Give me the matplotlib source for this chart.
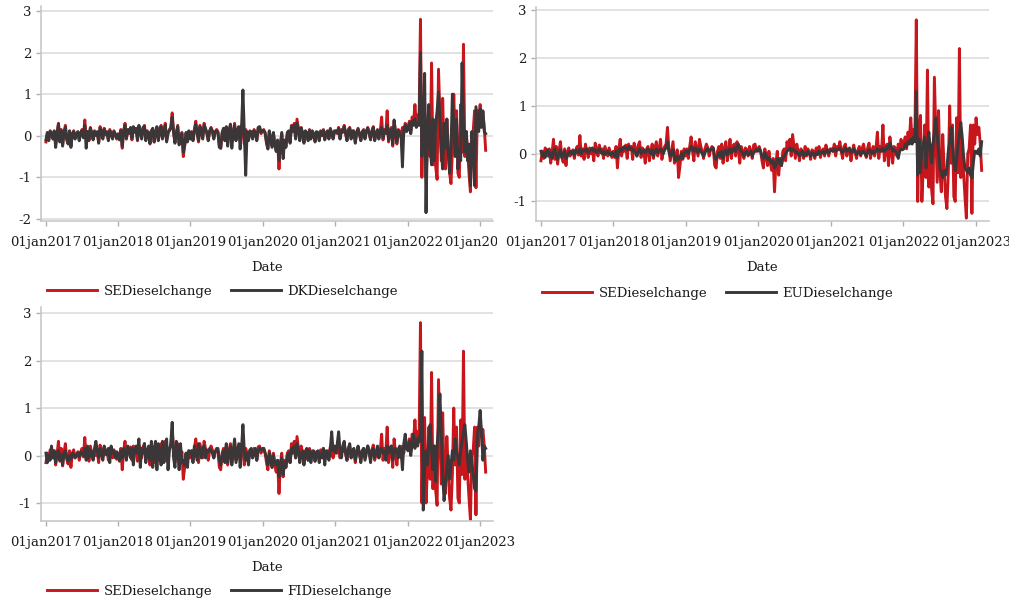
import matplotlib
matplotlib.use("Agg")
import matplotlib.pyplot as plt
import pandas as pd
from matplotlib.transforms import Bbox, TransformedBbox

# weekly diesel price changes (2017 .. early 2023)
se_diesel = [
    # 2017
    -0.15, 0.05, -0.10, 0.12, 0.08, -0.05, 0.10, -0.20, 0.02, 0.30,
    -0.12, 0.15, -0.22, 0.05, 0.25, -0.08, -0.18, 0.10, -0.25, 0.04,
    0.12, -0.05, 0.02, 0.08, -0.10, 0.05, 0.15, -0.03, 0.38, -0.05,
    0.10, -0.12, 0.20, 0.05, -0.08, 0.12, 0.00, 0.08, -0.15, 0.22,
    0.10, -0.05, 0.18, 0.02, 0.10, -0.10, 0.15, 0.05, -0.05, 0.12,
    0.02, -0.08,
    # 2018
    0.05, -0.08, 0.15, -0.30, 0.10, 0.30, -0.05, 0.12, 0.05, 0.18,
    -0.10, 0.20, 0.08, 0.15, -0.12, 0.22, 0.10, -0.05, 0.18, 0.25,
    -0.08, 0.12, 0.05, -0.20, 0.10, 0.15, -0.15, 0.05, 0.20, -0.10,
    0.12, 0.25, -0.05, 0.08, 0.30, -0.12, 0.05, 0.15, 0.20, 0.55,
    0.10, -0.15, 0.05, 0.25, -0.20, -0.10, 0.08, -0.50, -0.25, 0.05,
    -0.12, 0.10, -0.05,
    # 2019
    0.10, -0.10, 0.15, 0.35, 0.05, -0.15, 0.25, 0.10, -0.05, 0.30,
    0.15, 0.05, -0.10, 0.10, 0.20, 0.12, -0.05, 0.08, 0.15, 0.10,
    -0.25, -0.30, 0.05, 0.15, -0.10, 0.20, -0.20, 0.10, 0.25, -0.15,
    0.05, 0.30, -0.10, 0.15, 0.20, -0.05, 0.25, 0.10, -0.20, 0.15,
    0.05, -0.10, 0.12, 0.08, -0.05, 0.15, 0.05, -0.10, 0.18, 0.20,
    0.05, 0.10,
    # 2020
    0.15, 0.05, -0.15, -0.30, 0.10, -0.05, -0.25, 0.05, -0.20, -0.35,
    -0.10, -0.80, -0.20, 0.05, -0.45, -0.10, -0.25, 0.05, 0.10, -0.15,
    0.25, 0.10, 0.30, -0.05, 0.40, 0.15, -0.10, 0.20, 0.05, -0.15,
    0.10, 0.05, -0.10, 0.15, -0.05, 0.10, 0.02, -0.12, 0.08, 0.05,
    -0.10, 0.12, 0.00, 0.15, -0.08, 0.05, 0.10, -0.05, 0.18, 0.05,
    -0.05, 0.10,
    # 2021
    0.10, 0.05, 0.20, -0.05, 0.15, 0.08, 0.25, 0.05, -0.10, 0.15,
    0.20, -0.05, 0.10, 0.12, -0.15, 0.05, 0.18, 0.02, -0.10, 0.08,
    0.15, -0.05, 0.10, 0.20, 0.05, -0.08, 0.12, 0.22, -0.10, 0.05,
    0.15, -0.05, 0.10, 0.45, -0.10, 0.15, 0.05, 0.60, -0.15, 0.10,
    0.20, -0.25, 0.35, 0.05, -0.20, 0.15, 0.10, -0.05, 0.20, 0.05,
    0.30, 0.15,
    # 2022
    0.20, 0.35, 0.10, 0.45, 0.30, 0.75, 0.25, 0.50, 0.40, 2.80,
    -1.00, 0.50, 0.80, -1.00, -0.30, 0.60, -0.50, 1.75, -0.70, 0.20,
    -0.75, -1.05, 1.60, 0.50, -0.60, 0.90, -0.40, -0.80, 0.40, -0.30,
    -0.90, -1.15, -0.40, 1.00, -0.20, 0.60, -0.90, -1.00, 0.75, -0.40,
    2.20, -0.50, 0.10, -0.40, -0.90, -1.35, 0.00, 0.10, 0.60, -1.25,
    0.60, 0.20,
    # 2023
    0.75, 0.40, 0.55, 0.20, -0.35,
]

dk_diesel = [
    # 2017
    -0.10, 0.08, -0.12, 0.10, 0.05, -0.08, 0.12, -0.28, 0.05, 0.28,
    -0.15, 0.12, -0.25, 0.08, 0.20, -0.10, -0.20, 0.12, -0.28, 0.05,
    0.10, -0.08, 0.05, 0.10, -0.12, 0.08, 0.12, -0.05, 0.25, -0.30,
    0.10, -0.10, 0.18, 0.08, -0.10, 0.10, 0.02, 0.10, -0.18, 0.18,
    0.12, -0.08, 0.15, 0.05, 0.08, -0.12, 0.12, 0.08, -0.08, 0.10,
    0.05, -0.05,
    # 2018
    0.02, -0.10, 0.12, -0.25, 0.12, 0.25, -0.08, 0.15, 0.08, 0.20,
    -0.05, 0.22, 0.10, 0.18, -0.10, 0.25, 0.12, -0.08, 0.20, 0.22,
    -0.12, 0.10, 0.08, -0.18, 0.12, 0.18, -0.15, 0.08, 0.22, -0.12,
    0.10, 0.22, -0.08, 0.10, 0.25, -0.15, 0.08, 0.12, 0.18, 0.45,
    0.08, -0.18, 0.08, 0.22, -0.22, -0.12, 0.05, -0.40, -0.22, 0.08,
    -0.15, 0.12, -0.08,
    # 2019
    0.08, -0.12, 0.12, 0.28, 0.08, -0.12, 0.22, 0.12, -0.08, 0.25,
    0.18, 0.08, -0.12, 0.12, 0.18, 0.10, -0.08, 0.10, 0.12, 0.08,
    -0.28, -0.30, 0.08, 0.18, -0.12, 0.22, -0.25, 0.12, 0.28, -0.30,
    0.08, 0.25, -0.12, 0.12, 0.22, -0.32, 0.20, 1.10, 0.05, -0.95,
    0.10, -0.12, 0.10, 0.10, -0.08, 0.12, 0.08, -0.12, 0.20, 0.22,
    0.08, 0.12,
    # 2020
    0.12, 0.08, -0.18, -0.32, 0.12, -0.08, -0.28, 0.08, -0.22, -0.38,
    -0.12, -0.60, -0.25, 0.08, -0.55, -0.12, -0.28, 0.08, 0.12, -0.18,
    0.22, 0.12, 0.25, -0.08, 0.30, 0.18, -0.12, 0.18, 0.08, -0.18,
    0.12, 0.08, -0.12, 0.12, -0.08, 0.12, 0.05, -0.15, 0.10, 0.08,
    -0.12, 0.10, 0.02, 0.12, -0.10, 0.08, 0.12, -0.08, 0.15, 0.08,
    -0.08, 0.12,
    # 2021
    0.12, 0.08, 0.18, -0.08, 0.12, 0.10, 0.22, 0.08, -0.12, 0.12,
    0.18, -0.08, 0.12, 0.10, -0.18, 0.08, 0.15, 0.05, -0.12, 0.10,
    0.12, -0.08, 0.12, 0.18, 0.08, -0.10, 0.10, 0.20, -0.12, 0.08,
    0.12, -0.08, 0.12, 0.20, -0.05, 0.12, 0.08, 0.25, -0.10, 0.12,
    0.15, -0.20, 0.38, 0.10, -0.15, 0.12, 0.05, 0.00, -0.75, 0.15,
    0.25, 0.10,
    # 2022
    0.15, 0.30, 0.05, 0.35, 0.25, 0.40, 0.20, 0.30, 0.25, 2.00,
    -0.50, 0.20, 1.50, -1.85, 0.10, 0.75, -0.30, -0.70, 0.40, -0.60,
    0.30, 0.60, 1.05, 0.40, -0.40, -0.80, 0.30, -0.30, 0.40, -0.40,
    -0.90, -0.30, 1.00, 0.20, -0.50, 0.40, -0.80, -0.30, -0.60, 1.75,
    0.30, -0.40, 0.10, -0.60, -0.20, -1.20, 0.10, -0.30, -1.20, 0.70,
    0.40, 0.10,
    # 2023
    0.65, 0.20, 0.60, 0.10, 0.05,
]

eu_diesel = [
    # 2017
    0.05, -0.05, 0.02, -0.08, 0.05, 0.08, -0.05, 0.02, -0.10, 0.05,
    0.10, -0.05, -0.12, 0.02, 0.08, -0.08, 0.00, 0.05, -0.10, -0.05,
    0.02, 0.05, 0.00, 0.05, -0.03, 0.08, 0.05, 0.02, 0.10, 0.00,
    0.05, 0.08, 0.05, 0.10, 0.02, 0.05, 0.08, 0.12, 0.05, 0.08,
    0.02, 0.05, 0.10, 0.05, 0.00, 0.05, -0.02, 0.02, 0.05, 0.00,
    -0.03, 0.02,
    # 2018
    0.00, -0.05, 0.05, -0.08, 0.05, 0.10, 0.05, 0.12, 0.15, 0.10,
    0.08, 0.15, 0.10, 0.12, 0.05, 0.08, 0.02, -0.05, 0.05, 0.10,
    0.00, 0.05, 0.08, 0.02, 0.05, 0.10, 0.05, 0.00, 0.08, -0.05,
    0.05, 0.10, 0.02, 0.05, 0.10, 0.05, 0.00, 0.08, 0.12, 0.25,
    0.05, -0.05, 0.02, 0.08, -0.10, -0.15, -0.05, -0.12, -0.08, 0.00,
    -0.10, 0.02, 0.05,
    # 2019
    0.05, 0.00, 0.08, 0.15, 0.10, 0.05, 0.12, 0.08, 0.02, 0.10,
    0.05, 0.00, -0.05, 0.02, 0.08, 0.10, 0.05, 0.08, 0.10, 0.12,
    -0.08, -0.12, -0.05, 0.02, -0.05, 0.05, -0.10, 0.02, 0.08, -0.02,
    0.05, 0.10, 0.02, 0.08, 0.12, 0.05, 0.15, 0.20, 0.10, 0.05,
    0.02, -0.05, 0.02, 0.05, -0.02, 0.00, 0.05, -0.05, 0.02, 0.05,
    0.08, 0.05,
    # 2020
    0.10, 0.05, -0.05, -0.10, 0.02, -0.05, -0.12, -0.08, -0.15, -0.20,
    -0.15, -0.30, -0.25, -0.10, -0.20, -0.12, -0.25, -0.10, -0.05, 0.00,
    0.05, 0.08, 0.12, 0.05, 0.10, 0.08, 0.02, 0.05, 0.00, -0.05,
    0.02, 0.05, -0.05, 0.02, -0.02, 0.05, 0.00, -0.05, 0.02, 0.00,
    -0.05, 0.02, -0.02, 0.05, 0.00, 0.02, 0.05, 0.00, 0.05, 0.08,
    0.02, 0.05,
    # 2021
    0.08, 0.05, 0.10, 0.05, 0.08, 0.10, 0.12, 0.05, 0.02, 0.08,
    0.12, 0.05, 0.08, 0.10, 0.02, 0.05, 0.10, 0.05, -0.02, 0.02,
    0.05, -0.02, 0.02, 0.05, 0.00, -0.05, 0.02, 0.08, 0.05, 0.00,
    0.05, 0.02, 0.05, 0.10, 0.05, 0.08, 0.05, 0.12, 0.05, 0.08,
    0.15, 0.10, 0.22, 0.15, 0.05, 0.08, 0.05, 0.02, -0.10, 0.05,
    0.10, 0.08,
    # 2022
    0.10, 0.20, 0.15, 0.25, 0.20, 0.30, 0.20, 0.35, 0.25, 1.30,
    -0.45, 0.30, -0.40, 0.05, 0.20, 0.35, -0.30, 0.15, 0.45, 0.10,
    -0.20, 0.20, 0.45, 0.75, 0.40, 0.05, -0.30, -0.40, -0.50, -0.35,
    -0.45, -0.30, 0.05, 0.25, 0.55, 0.20, -0.20, -0.35, -0.15, 0.20,
    0.40, 0.65, 0.35, -0.05, -0.30, -0.35, -0.40, -0.30, -0.45, -0.50,
    -0.20, 0.05,
    # 2023
    0.05, 0.00, 0.10, -0.05, 0.25,
]

fi_diesel = [
    # 2017
    0.05, -0.15, 0.00, -0.10, 0.20, -0.05, 0.10, -0.15, 0.05, 0.10,
    -0.10, 0.02, -0.20, 0.05, 0.10, -0.05, -0.12, 0.00, -0.08, 0.05,
    0.02, -0.05, 0.00, 0.05, -0.03, 0.08, 0.05, 0.00, 0.15, -0.10,
    0.20, -0.05, 0.12, 0.08, -0.10, 0.15, 0.30, 0.10, -0.05, 0.15,
    0.05, -0.10, 0.20, 0.10, 0.02, 0.15, -0.15, 0.20, 0.05, 0.10,
    -0.05, 0.08,
    # 2018
    0.02, -0.12, 0.10, -0.05, 0.15, 0.05, -0.10, 0.20, 0.10, -0.05,
    0.15, -0.20, 0.10, 0.20, 0.05, 0.35, -0.25, 0.15, 0.05, 0.25,
    -0.15, 0.10, 0.20, -0.10, 0.30, -0.25, 0.15, 0.30, -0.30, 0.25,
    0.05, -0.20, 0.30, -0.15, 0.20, 0.35, -0.30, 0.10, 0.25, 0.70,
    -0.05, -0.25, 0.30, 0.15, -0.30, 0.25, -0.15, -0.10, -0.20, 0.05,
    -0.25, 0.10, 0.05,
    # 2019
    0.10, -0.15, 0.20, 0.05, -0.10, 0.25, 0.10, -0.05, 0.15, 0.20,
    -0.05, 0.12, 0.08, 0.15, 0.10, 0.05, -0.05, 0.08, 0.12, 0.15,
    -0.10, -0.20, 0.00, 0.10, -0.15, 0.25, -0.15, 0.05, 0.20, -0.20,
    0.10, 0.35, -0.15, 0.05, 0.25, -0.25, 0.15, 0.65, 0.10, -0.10,
    0.05, -0.20, 0.10, 0.15, -0.05, 0.05, 0.15, -0.10, 0.10, 0.15,
    0.12, 0.15,
    # 2020
    0.15, 0.05, -0.05, -0.20, 0.05, -0.10, -0.25, 0.00, -0.15, -0.20,
    -0.10, -0.45, -0.15, -0.05, -0.40, -0.15, -0.25, 0.00, 0.05, -0.15,
    0.15, 0.05, 0.20, -0.05, 0.25, 0.10, -0.15, 0.05, 0.10, -0.20,
    0.05, 0.15, -0.10, 0.10, -0.15, 0.05, 0.10, -0.12, 0.05, 0.10,
    -0.15, 0.05, -0.05, 0.15, -0.20, 0.10, 0.05, -0.10, 0.15, 0.50,
    0.10, 0.20,
    # 2021
    0.05, 0.25, 0.50, 0.10, -0.05, 0.20, 0.30, 0.05, -0.10, 0.15,
    0.25, -0.05, 0.10, 0.15, -0.10, 0.05, 0.20, 0.05, -0.15, 0.10,
    0.15, -0.10, 0.05, 0.20, 0.10, -0.15, 0.10, 0.15, -0.05, 0.05,
    0.20, -0.05, 0.10, 0.15, 0.05, 0.10, -0.10, 0.20, 0.05, 0.15,
    0.20, -0.10, 0.10, 0.15, 0.05, -0.05, 0.20, 0.10, -0.30, 0.25,
    0.45, 0.15,
    # 2022
    0.10, 0.30, 0.00, 0.25, 0.45, 0.15, 0.35, 0.20, 0.40, 0.30,
    2.20, -1.15, -0.30, 0.10, -0.20, 0.30, 0.65, 0.10, -0.30, 0.20,
    -0.55, 0.20, 0.60, 1.30, 0.50, -0.40, -0.95, -0.60, -0.30, 0.00,
    -0.50, -0.20, 0.10, -0.10, 0.35, 0.10, -0.05, -0.20, 0.10, 0.30,
    0.50, 0.65, 0.30, -0.10, -0.35, 0.10, -0.10, -0.40, -0.70, -0.75,
    0.40, 0.60,
    # 2023
    0.95, 0.50, -0.10, 0.20, 0.15,
]

tick_years = [2017, 2018, 2019, 2020, 2021, 2022, 2023]
tick_labels = ["01jan" + str(y) for y in tick_years]

RED = "#c8161d"
DARK = "#3b3738"
GRID = "#dadada"
TXT = "#1c1c1c"
FONT = "DejaVu Serif"

plt.rcParams["font.family"] = FONT
plt.rcParams["font.size"] = 9.5


def weekly(values):
    return pd.date_range("2017-01-02", periods=len(values), freq="W-MON")


fig = plt.figure(figsize=(10.09, 6.0), dpi=100)

# (axes rect, other series, other name, ylim, yticks, legend anchor x/y in px)
panels = [
    ([41 / 1009, 379 / 600, 452 / 1009, 215 / 600], dk_diesel, "DKDieselchange",
     (-2.05, 3.12), [-2, -1, 0, 1, 2, 3], (47, 291)),
    ([536 / 1009, 379 / 600, 453 / 1009, 214 / 600], eu_diesel, "EUDieselchange",
     (-1.41, 3.07), [-1, 0, 1, 2, 3], (542, 293)),
    ([41 / 1009, 79 / 600, 452 / 1009, 214 / 600], fi_diesel, "FIDieselchange",
     (-1.38, 3.13), [-1, 0, 1, 2, 3], (47, 591)),
]

xticks = [pd.Timestamp(f"{y}-01-01") for y in tick_years]

for i, (rect, other, name, ylim, yticks, leg_xy) in enumerate(panels):
    ax = fig.add_axes(rect)
    l1, = ax.plot(weekly(se_diesel), se_diesel, color=RED, lw=2.1,
                  label="SEDieselchange", solid_joinstyle="round")
    l2, = ax.plot(weekly(other), other, color=DARK, lw=2.1,
                  label=name, solid_joinstyle="round")

    ax.set_xlim(pd.Timestamp("2016-12-08"), pd.Timestamp("2023-03-08"))
    ax.set_ylim(*ylim)
    ax.set_yticks(yticks)
    ax.set_yticklabels([str(t) for t in yticks])
    ax.set_xticks(xticks)
    ax.set_xticklabels(tick_labels)

    ax.grid(axis="y", color=GRID, lw=1.1)
    ax.set_axisbelow(True)
    for s in ["top", "right"]:
        ax.spines[s].set_visible(False)
    for s in ["left", "bottom"]:
        ax.spines[s].set_color("#c4c4c4")
        ax.spines[s].set_linewidth(1.1)
    ax.tick_params(axis="both", colors="#b0b0b0", labelcolor=TXT,
                   length=3.6, width=1.0, labelsize=9.5)
    ax.tick_params(axis="x", pad=7)
    ax.tick_params(axis="y", pad=3)
    ax.set_xlabel("Date", color=TXT, fontsize=9.5, labelpad=8.5)

    if i == 0:
        # Stata clips the last date label at the panel border
        clip = TransformedBbox(Bbox([[0, 0], [497 / 1009, 1]]), fig.transFigure)
        for lab in ax.get_xticklabels():
            lab.set_clip_box(clip)
            lab.set_clip_on(True)

    fig.legend(handles=[l1, l2], loc="center left",
               bbox_to_anchor=(leg_xy[0] / 1009, 1 - leg_xy[1] / 600),
               ncol=2, frameon=False, borderpad=0, borderaxespad=0,
               handlelength=3.8, handletextpad=0.5, columnspacing=1.4,
               fontsize=9.5, labelcolor=TXT)

fig.savefig("out.png", dpi=100)
